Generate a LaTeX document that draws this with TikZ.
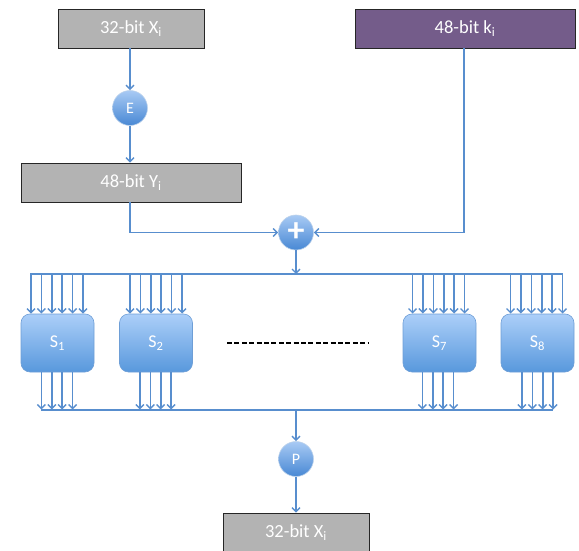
\documentclass[tikz,border=0pt]{standalone}
\usepackage{fontspec}
\setmainfont{Carlito}
\usetikzlibrary{arrows.meta,shadows}
\definecolor{wireblue}{RGB}{88,142,206}
\definecolor{boxgray}{RGB}{179,179,179}
\definecolor{keypurple}{RGB}{116,92,138}
\definecolor{circtop}{RGB}{168,202,244}
\definecolor{circbot}{RGB}{72,136,212}
\definecolor{sboxtop}{RGB}{172,207,249}
\definecolor{sboxbot}{RGB}{88,152,220}
\definecolor{sboxedge}{RGB}{110,158,214}
\tikzset{
  wire/.style={draw=wireblue, line width=1.6pt},
  arr/.style={wire, -{Straight Barb[length=4pt,width=8pt,line width=1.4pt]}},
  databox/.style={draw=black!85, line width=0.8pt, fill=boxgray, text=white,
    minimum height=39pt, inner sep=0pt, font=\fontsize{18.5}{20}\selectfont,
    drop shadow={shadow xshift=1pt, shadow yshift=-1.2pt, opacity=0.35}},
  keybox/.style={databox, fill=keypurple},
  opcirc/.style={circle, draw=white!60!wireblue, line width=0.6pt,
    top color=circtop, bottom color=circbot, minimum size=35pt, inner sep=0pt,
    text=white, font=\fontsize{16}{18}\selectfont},
  sbox/.style={rectangle, rounded corners=9pt, draw=sboxedge, line width=0.6pt,
    top color=sboxtop, bottom color=sboxbot, minimum width=73pt, minimum height=58pt,
    inner sep=0pt, text=white, font=\fontsize{18}{20}\selectfont},
}
\begin{document}
\begin{tikzpicture}[x=1pt, y=-1pt]
\useasboundingbox (0,0) rectangle (579,551);

% input half-block, expansion and round key
\node[databox, minimum width=146pt] (xin) at (131,28.5) {32-bit X\textsubscript{i}};
\node[keybox, minimum width=220pt] (key) at (465,28.5) {48-bit k\textsubscript{i}};
\node[opcirc] (exp) at (130,108) {E};
\node[databox, minimum width=220pt] (yin) at (131,182.5) {48-bit Y\textsubscript{i}};
\node[opcirc] (xor) at (296,232.5) {\fontsize{34}{34}\selectfont\bfseries\raisebox{-1pt}{+}};

\draw[arr] (xin.south -| exp) -- (exp.north);
\draw[arr] (exp.south) -- (yin.north -| exp);
\draw[arr] (yin.south -| exp) |- (xor.west);
\draw[arr] (key.south -| 464,0) |- (xor.east);

% distribution bus feeding the S-boxes
\coordinate (topL) at (30,274);
\coordinate (topR) at (563,274);
\coordinate (topM) at (296,274);
\draw[arr] (xor.south) -- (topM);
\draw[wire] (topL) -- (topR);

% S-boxes
\node[sbox] (s1) at (57.5,343) {S\textsubscript{1}};
\node[sbox] (s2) at (156,343) {S\textsubscript{2}};
\node[sbox] (s7) at (439.5,343) {S\textsubscript{7}};
\node[sbox] (s8) at (537.5,343) {S\textsubscript{8}};

\foreach \s/\c in {s1/57, s2/156, s7/438.5, s8/536.5} {
  \foreach \d in {-26,-15.6,-5.2,5.2,15.6,26}
    \draw[arr] (\c+\d,274) -- (\c+\d,313.5);
}

\draw[black, line width=1.6pt, dash pattern=on 5pt off 2.4pt] (227,343) -- (368,343);

% collecting bus and permutation
\coordinate (botL) at (41,410);
\coordinate (botR) at (553,410);
\coordinate (botM) at (296,410);
\foreach \s/\c in {s1/57, s2/155.5, s7/438, s8/537.5} {
  \foreach \d in {-15.6,-5.2,5.2,15.6}
    \draw[arr] (\c+\d,372) -- (\c+\d,409.5);
}
\draw[wire] (botL) -- (botR);

\node[opcirc] (perm) at (296,459) {P};
\node[databox, minimum width=146pt] (xout) at (296,532.5) {32-bit X\textsubscript{i}};
\draw[arr] (botM) -- (perm.north);
\draw[arr] (perm.south) -- (xout.north);
\end{tikzpicture}
\end{document}
